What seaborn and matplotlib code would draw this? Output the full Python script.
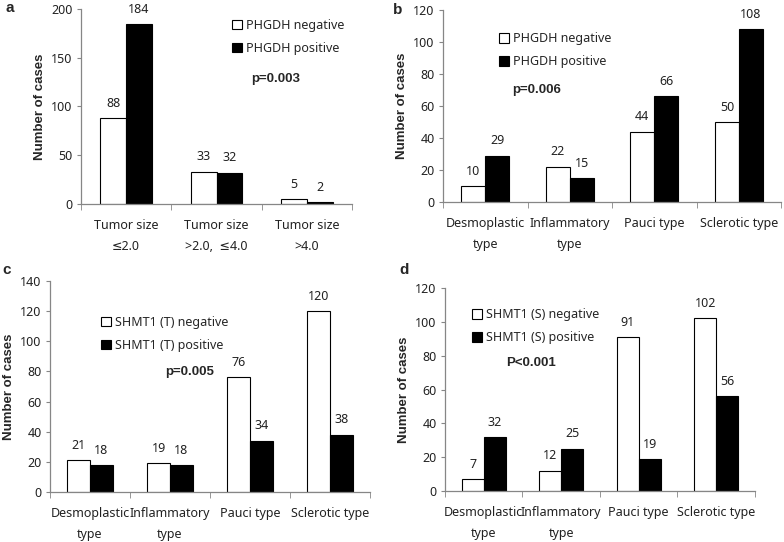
import numpy as np
import pandas as pd
import matplotlib
matplotlib.use("Agg")
import matplotlib.pyplot as plt
import seaborn as sns

sns.set_style("ticks")
plt.rcParams["font.family"] = ["Noto Sans", "DejaVu Sans"]

# panel a
cats_a = ["Tumor size\n≤2.0", "Tumor size\n>2.0,  ≤4.0", "Tumor size\n>4.0"]
neg_a = [88, 33, 5]
pos_a = [184, 32, 2]
# panel b
types = ["Desmoplastic\ntype", "Inflammatory\ntype", "Pauci type", "Sclerotic type"]
neg_b = [10, 22, 44, 50]
pos_b = [29, 15, 66, 108]
# panel c
neg_c = [21, 19, 76, 120]
pos_c = [18, 18, 34, 38]
# panel d
neg_d = [7, 12, 91, 102]
pos_d = [32, 25, 19, 56]

panels = [
    dict(letter="a", cats=cats_a, neg=neg_a, pos=pos_a, names=("PHGDH negative", "PHGDH positive"),
         ptext="p=0.003", ymax=200, step=50, rect=[0.1033, 0.6236, 0.3457, 0.360],
         leg=(0.557, 0.95), pxy=(0.72, 0.641), lxy=(10, 8)),
    dict(letter="b", cats=types, neg=neg_b, pos=pos_b, names=("PHGDH negative", "PHGDH positive"),
         ptext="p=0.006", ymax=120, step=20, rect=[0.565, 0.6273, 0.4315, 0.3542],
         leg=(0.165, 0.885), pxy=(0.277, 0.583), lxy=(398, 10)),
    dict(letter="c", cats=types, neg=neg_c, pos=pos_c, names=("SHMT1 (T) negative", "SHMT1 (T) positive"),
         ptext="p=0.005", ymax=140, step=20, rect=[0.0638, 0.0923, 0.408, 0.3892],
         leg=(0.16, 0.834), pxy=(0.4375, 0.569), lxy=(7, 270)),
    dict(letter="d", cats=types, neg=neg_d, pos=pos_d, names=("SHMT1 (S) negative", "SHMT1 (S) positive"),
         ptext="P<0.001", ymax=120, step=20, rect=[0.5676, 0.0941, 0.3954, 0.3745],
         leg=(0.087, 0.90), pxy=(0.277, 0.63), lxy=(404, 270)),
]

fig = plt.figure(figsize=(7.84, 5.42), dpi=100)
W, H = 784, 542
spine_col = "#868686"
fs = 9

for p in panels:
    ax = fig.add_axes(p["rect"])
    df = pd.DataFrame({
        "cat": p["cats"] * 2,
        "count": p["neg"] + p["pos"],
        "group": [p["names"][0]] * len(p["cats"]) + [p["names"][1]] * len(p["cats"]),
    })
    sns.barplot(data=df, x="cat", y="count", hue="group", hue_order=list(p["names"]),
                palette={p["names"][0]: "white", p["names"][1]: "black"},
                edgecolor="black", linewidth=0.8, width=0.57, ax=ax, saturation=1)
    for cont in ax.containers:
        ax.bar_label(cont, padding=6, fontsize=fs, color="#222222")
    n = len(p["cats"])
    ax.set_xlim(-0.5, n - 0.5)
    ax.set_ylim(0, p["ymax"])
    ax.set_yticks(np.arange(0, p["ymax"] + 1, p["step"]))
    ax.set_xlabel("")
    ax.set_ylabel("Number of cases", fontsize=9.5, fontweight="bold",
                  family=["Liberation Sans", "DejaVu Sans"], labelpad=4)
    ax.tick_params(axis="y", labelsize=fs, length=3, color=spine_col, pad=3, labelcolor="#222222")
    ax.tick_params(axis="x", which="major", length=0, labelsize=fs, pad=11, labelcolor="#222222")
    for lab in ax.get_xticklabels():
        lab.set_linespacing(1.8)
    ax.set_xticks(np.arange(-0.5, n), minor=True)
    ax.tick_params(axis="x", which="minor", length=4, color=spine_col)
    sns.despine(ax=ax)
    for s in ["left", "bottom"]:
        ax.spines[s].set_color(spine_col)
        ax.spines[s].set_linewidth(0.9)
    leg = ax.legend(loc="upper left", bbox_to_anchor=p["leg"], frameon=False, fontsize=fs,
                    handlelength=0.8, handleheight=0.8, handletextpad=0.3,
                    labelspacing=0.8, borderaxespad=0, borderpad=0)
    for h in leg.legend_handles:
        h.set_edgecolor("black")
        h.set_linewidth(0.8)
    ax.text(p["pxy"][0], p["pxy"][1], p["ptext"], transform=ax.transAxes, ha="center", va="center",
            fontsize=9.5, fontweight="bold", family=["Liberation Sans", "DejaVu Sans"])
    fig.text(p["lxy"][0] / W, 1 - p["lxy"][1] / H, p["letter"], ha="center", va="center",
             fontsize=11, fontweight="bold", family=["Liberation Sans", "DejaVu Sans"])

fig.savefig("out.png", dpi=100)
